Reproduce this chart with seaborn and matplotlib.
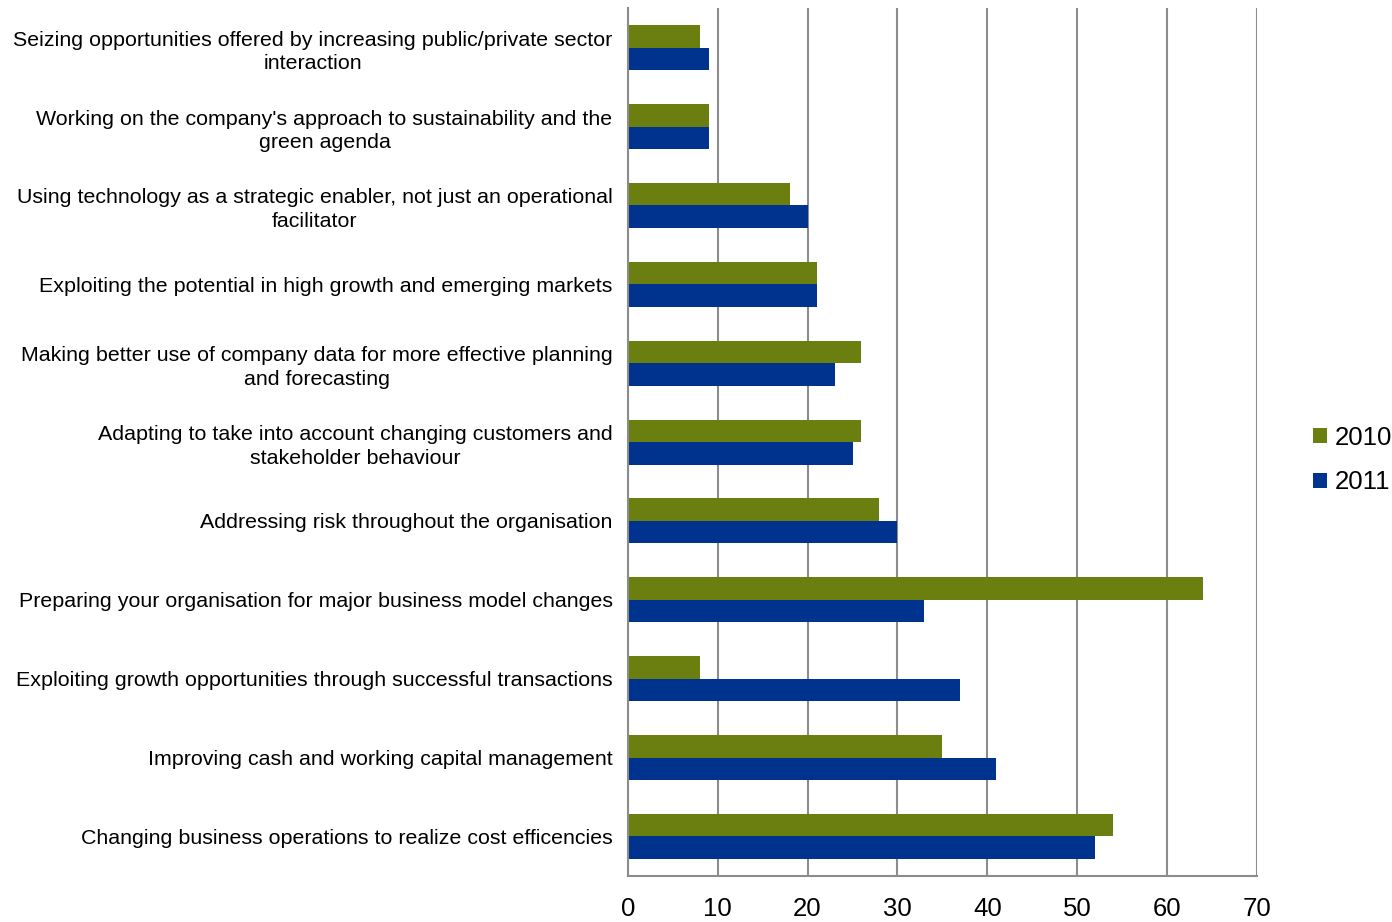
import matplotlib
matplotlib.use("Agg")
import matplotlib.pyplot as plt
import seaborn as sns
import pandas as pd
import numpy as np

categories = [
    "Seizing opportunities offered by increasing public/private sector\ninteraction",
    "Working on the company's approach to sustainability and the\ngreen agenda",
    "Using technology as a strategic enabler, not just an operational\nfacilitator",
    "Exploiting the potential in high growth and emerging markets",
    "Making better use of company data for more effective planning\nand forecasting",
    "Adapting to take into account changing customers and\nstakeholder behaviour",
    "Addressing risk throughout the organisation",
    "Preparing your organisation for major business model changes",
    "Exploiting growth opportunities through successful transactions",
    "Improving cash and working capital management",
    "Changing business operations to realize cost efficencies",
]
values_2010 = [8, 9, 18, 21, 26, 26, 28, 64, 8, 35, 54]
values_2011 = [9, 9, 20, 21, 23, 25, 30, 33, 37, 41, 52]
years = ["2010", "2011"]
x_ticks = [0, 10, 20, 30, 40, 50, 60, 70]

df = pd.DataFrame({
    "category": categories * 2,
    "value": values_2010 + values_2011,
    "year": [years[0]] * len(categories) + [years[1]] * len(categories),
})

sns.set_style("white")
plt.rcParams['font.family'] = ['Liberation Sans', 'DejaVu Sans']
plt.rcParams['text.color'] = 'black'
plt.rcParams['xtick.labelcolor'] = 'black'
plt.rcParams['ytick.labelcolor'] = 'black'

fig = plt.figure(figsize=(13.92, 9.22), dpi=100)
ax = fig.add_axes([0.451, 0.05, 0.452, 0.941])

palette = {"2010": "#6B7F10", "2011": "#00338D"}
sns.barplot(data=df, y="category", x="value", hue="year", hue_order=years,
            order=categories, palette=palette, width=0.57, ax=ax,
            edgecolor="none", linewidth=0, saturation=1, legend=True)

ax.set_xlim(0, 70)
ax.set_ylim(len(categories) - 0.5, -0.5)
ax.set_xticks(x_ticks)
ax.set_xticklabels([str(t) for t in x_ticks], fontsize=18.5)
ax.grid(axis="x", color="#8C8C8C", linewidth=1.5)
ax.grid(axis="y", visible=False)
ax.set_axisbelow(True)
ax.set_xlabel("")
ax.set_ylabel("")

for s in ["top", "right"]:
    ax.spines[s].set_visible(False)
for s in ["left", "bottom"]:
    ax.spines[s].set_color("#8C8C8C")
    ax.spines[s].set_linewidth(1.5)

ax.tick_params(axis="x", which="major", length=7, width=1.5, color="#8C8C8C",
               direction="out", pad=8, labelcolor="black")
ax.tick_params(axis="y", which="major", length=0, pad=11, labelsize=15.4,
               labelcolor="black")
ax.set_yticks(np.arange(-0.5, len(categories), 1.0), minor=True)
ax.tick_params(axis="y", which="minor", length=7, width=1.5, color="#8C8C8C",
               direction="out")
for lbl in ax.get_yticklabels():
    lbl.set_multialignment("center")
    lbl.set_horizontalalignment("right")
    lbl.set_linespacing(1.3)

leg = ax.legend(loc="center left", bbox_to_anchor=(0.934, 0.501),
                bbox_transform=fig.transFigure, frameon=False, fontsize=18.5,
                handlelength=0.55, handleheight=0.55, handletextpad=0.3,
                labelspacing=0.8, borderpad=0)
for t in leg.get_texts():
    t.set_color("black")

fig.savefig("out.png", dpi=100)
